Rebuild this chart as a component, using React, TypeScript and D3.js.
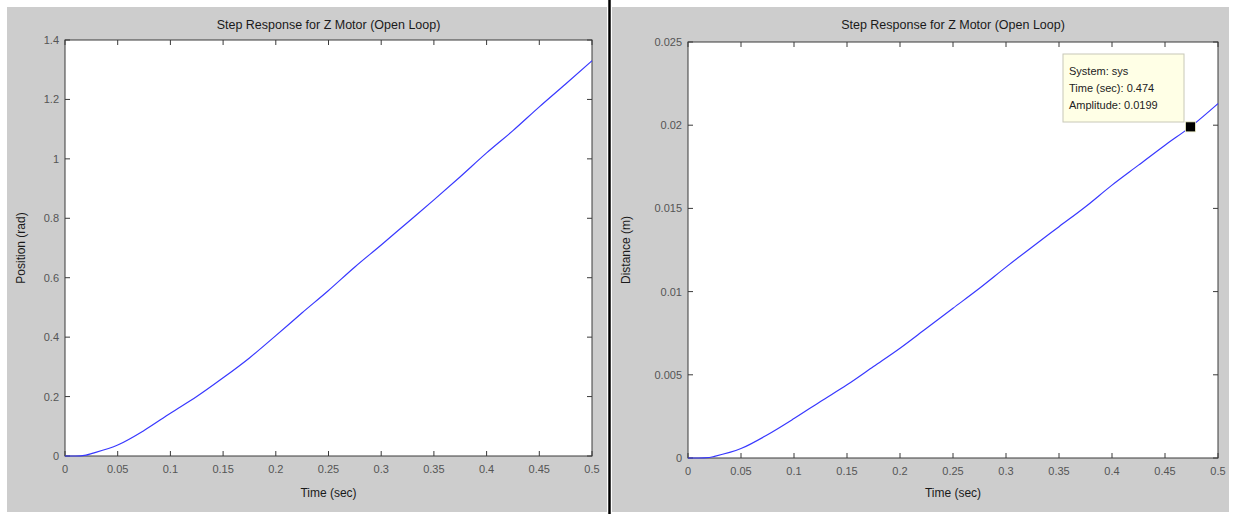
import React from 'react';
import * as d3 from 'd3';

// step response, open loop
const title = 'Step Response for Z Motor (Open Loop)';
const xLabel = 'Time (sec)';

const timeLeft = [0, 0.01, 0.02, 0.025, 0.05, 0.075, 0.1, 0.125, 0.15, 0.175, 0.2, 0.225, 0.25, 0.275, 0.3, 0.325, 0.35, 0.375, 0.4, 0.425, 0.45, 0.475, 0.5];
const position = [0, 0, 0.003, 0.008, 0.037, 0.086, 0.144, 0.2, 0.263, 0.33, 0.405, 0.482, 0.557, 0.636, 0.71, 0.786, 0.862, 0.94, 1.02, 1.095, 1.175, 1.252, 1.33];

const timeRight = [0, 0.01, 0.02, 0.025, 0.05, 0.075, 0.1, 0.125, 0.15, 0.175, 0.2, 0.225, 0.25, 0.275, 0.3, 0.325, 0.35, 0.375, 0.4, 0.425, 0.45, 0.474, 0.5];
const distance = [0, 0, 0.00003, 0.0001, 0.00057, 0.0014, 0.00237, 0.0034, 0.0044, 0.0055, 0.0066, 0.0078, 0.009, 0.0102, 0.01147, 0.0127, 0.0139, 0.0151, 0.0164, 0.0176, 0.0188, 0.0199, 0.0213];

const xTicks = [0, 0.05, 0.1, 0.15, 0.2, 0.25, 0.3, 0.35, 0.4, 0.45, 0.5];
const positionTicks = [0, 0.2, 0.4, 0.6, 0.8, 1, 1.2, 1.4];
const distanceTicks = [0, 0.005, 0.01, 0.015, 0.02, 0.025];

const cursorTime = [0.474];
const cursorAmp = [0.0199];
const tipLines = ['System: sys', 'Time (sec): 0.474', 'Amplitude: 0.0199'];

const FONT = '"Liberation Sans", Arial, sans-serif';
const GRAY = '#cdcdcd';

type PanelProps = {
  left: number;
  top: number;
  width: number;
  height: number;
  bgX: number;
  bgW: number;
  xs: number[];
  ys: number[];
  yTicks: number[];
  yLabel: string;
  children?: (x: d3.ScaleLinear<number, number>, y: d3.ScaleLinear<number, number>) => React.ReactNode;
};

const Panel = ({ left, top, width, height, bgX, bgW, xs, ys, yTicks, yLabel, children }: PanelProps) => {
  const x = d3.scaleLinear().domain([0, 0.5]).range([left, left + width]);
  const y = d3.scaleLinear().domain([0, yTicks[yTicks.length - 1]]).range([top + height, top]);
  const path = d3.line<number>()
    .x((d, i) => x(xs[i]))
    .y(d => y(d))
    .curve(d3.curveMonotoneX)(ys);
  const bottom = top + height;
  const right = left + width;
  const tl = 5;

  return (
    <g>
      <rect x={bgX} y={7} width={bgW} height={505} fill={GRAY} />
      <text x={(left + right) / 2} y={29} textAnchor='middle' fontSize={12.5} fill='#1a1a1a' fontFamily={FONT}>{title}</text>
      <rect x={left} y={top} width={width} height={height} fill='#fff' stroke='#3a3a3a' strokeWidth={1} />

      {xTicks.map(t => (
        <g key={'x' + t}>
          <line x1={x(t)} x2={x(t)} y1={bottom} y2={bottom - tl} stroke='#3a3a3a' />
          <line x1={x(t)} x2={x(t)} y1={top} y2={top + tl} stroke='#3a3a3a' />
          <text x={x(t)} y={bottom + 17} textAnchor='middle' fontSize={11} fill='#555' fontFamily={FONT}>{String(t)}</text>
        </g>
      ))}
      {yTicks.map(t => (
        <g key={'y' + t}>
          <line x1={left} x2={left + tl} y1={y(t)} y2={y(t)} stroke='#3a3a3a' />
          <line x1={right} x2={right - tl} y1={y(t)} y2={y(t)} stroke='#3a3a3a' />
          <text x={left - 6} y={y(t) + 4} textAnchor='end' fontSize={11} fill='#555' fontFamily={FONT}>{String(t)}</text>
        </g>
      ))}

      <text x={(left + right) / 2} y={497} textAnchor='middle' fontSize={12} fill='#1a1a1a' fontFamily={FONT}>{xLabel}</text>
      <text transform={`translate(${bgX + 18},${(top + bottom) / 2}) rotate(-90)`} textAnchor='middle' fontSize={12} fill='#1a1a1a' fontFamily={FONT}>{yLabel}</text>

      <path d={path || ''} fill='none' stroke='#3838ff' strokeWidth={1.2} />
      {children && children(x, y)}
    </g>
  );
};

const App = () => {
  return (
    <div style={{ position: 'absolute', left: 0, top: 0 }}>
      <svg width={1235} height={514} style={{ display: 'block', background: '#fff' }}>
        <Panel left={65} top={40} width={527} height={416} bgX={7} bgW={600}
          xs={timeLeft} ys={position} yTicks={positionTicks} yLabel='Position (rad)' />
        <Panel left={688} top={42} width={530} height={416} bgX={612} bgW={617}
          xs={timeRight} ys={distance} yTicks={distanceTicks} yLabel='Distance (m)'>
          {(x, y) => (
            <g>
              <rect x={1063} y={54} width={121} height={68} fill='#ffffe6' stroke='#c8c8b8' />
              {tipLines.map((s, i) => (
                <text key={s} x={1069} y={75 + i * 17} fontSize={11} fill='#222' fontFamily={FONT}>{s}</text>
              ))}
              {cursorTime.map((t, i) => (
                <rect key={t} x={x(t) - 5} y={y(cursorAmp[i]) - 5} width={10} height={10} fill='#000' stroke='#f0f0c8' strokeWidth={0.8} />
              ))}
            </g>
          )}
        </Panel>
        <line x1={609.5} x2={609.5} y1={0} y2={514} stroke='#000' strokeWidth={2.5} />
      </svg>
    </div>
  );
};

export default App;
